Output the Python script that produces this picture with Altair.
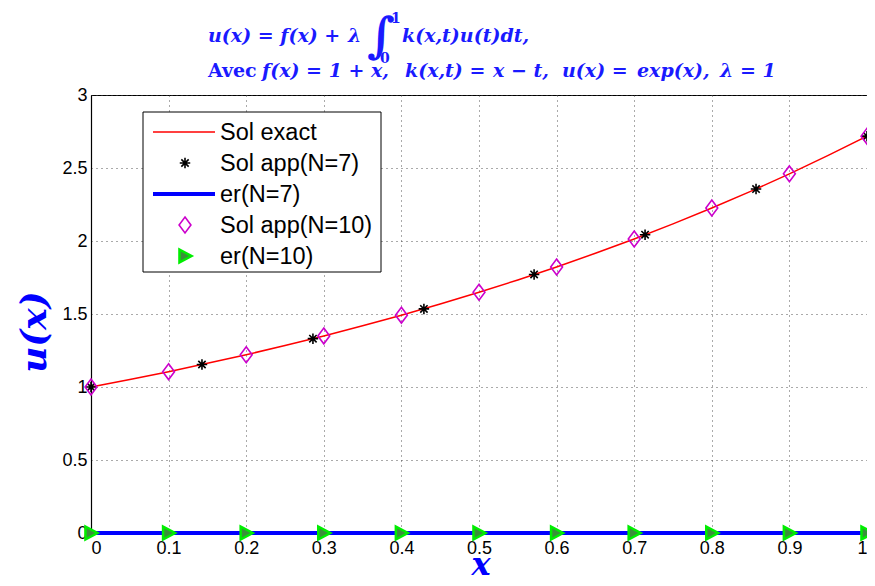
import altair as alt
import pandas as pd

# ---- data ----
x_exact = [0.0, 0.05, 0.1, 0.15, 0.2, 0.25, 0.3, 0.35, 0.4, 0.45, 0.5,
           0.55, 0.6, 0.65, 0.7, 0.75, 0.8, 0.85, 0.9, 0.95, 1.0]
u_exact = [1.000, 1.051, 1.105, 1.162, 1.221, 1.284, 1.350, 1.419, 1.492, 1.568, 1.649,
           1.733, 1.822, 1.916, 2.014, 2.117, 2.226, 2.340, 2.460, 2.586, 2.718]

x_n7 = [0.0, 0.143, 0.286, 0.429, 0.571, 0.714, 0.857, 1.0]
u_n7 = [1.000, 1.154, 1.331, 1.535, 1.771, 2.043, 2.356, 2.718]
er_n7 = [0, 0, 0, 0, 0, 0, 0, 0]

x_n10 = [0.0, 0.1, 0.2, 0.3, 0.4, 0.5, 0.6, 0.7, 0.8, 0.9, 1.0]
u_n10 = [1.000, 1.105, 1.221, 1.350, 1.492, 1.649, 1.822, 2.014, 2.226, 2.460, 2.718]
er_n10 = [0, 0, 0, 0, 0, 0, 0, 0, 0, 0, 0]

legend_labels = ["Sol exact", "Sol app(N=7)", "er(N=7)", "Sol app(N=10)", "er(N=10)"]
x_ticks = [0, 0.1, 0.2, 0.3, 0.4, 0.5, 0.6, 0.7, 0.8, 0.9, 1]
y_ticks = [0, 0.5, 1, 1.5, 2, 2.5, 3]

# title segments (text, left edge in px relative to plot)
title1_segs = ["u(x) = f(x) +", "λ", "k(x,t)u(t)dt,"]
title1_px = [117, 257, 311]
title2_segs = ["f(x) = 1 + x,", "k(x,t) =", "x − t,", "u(x) =", "exp(x),", "λ = 1"]
title2_px = [171, 314, 402, 471, 546, 629]

W, H = 776, 438
STAR = "M-1,0L1,0M0,-1L0,1M-0.7,-0.7L0.7,0.7M-0.7,0.7L0.7,-0.7"
DIAM = "M0,-1L0.75,0L0,1L-0.75,0Z"
TRI = "M-0.85,-1L1,0L-0.85,1Z"
BLUE_T = "#1a1aff"

df_exact = pd.DataFrame({"x": x_exact, "u": u_exact})
df7 = pd.DataFrame({"x": x_n7, "u": u_n7, "er": er_n7})
df10 = pd.DataFrame({"x": x_n10, "u": u_n10, "er": er_n10})

xs = alt.Scale(domain=[0, 1], nice=False)
ys = alt.Scale(domain=[0, 3], nice=False)

xax = alt.Axis(values=x_ticks, format="~g", title="", grid=True, ticks=False, labelPadding=6)
yax = alt.Axis(values=y_ticks, format="~g", title="", grid=True, ticks=False, labelPadding=4)

exact = alt.Chart(df_exact).mark_line(color="#ff0000", strokeWidth=1.5).encode(
    x=alt.X("x:Q", scale=xs, axis=xax), y=alt.Y("u:Q", scale=ys, axis=yax))
stars = alt.Chart(df7).mark_point(shape=STAR, size=110, color="black", strokeWidth=1.6,
                                  filled=False, opacity=1).encode(
    x=alt.X("x:Q", scale=xs), y=alt.Y("u:Q", scale=ys))
er7 = alt.Chart(df7).mark_line(color="#0000ff", strokeWidth=4).encode(
    x=alt.X("x:Q", scale=xs), y=alt.Y("er:Q", scale=ys))
diam = alt.Chart(df10).mark_point(shape=DIAM, size=250, color="#cc00cc", strokeWidth=1.6,
                                  filled=False, opacity=1).encode(
    x=alt.X("x:Q", scale=xs), y=alt.Y("u:Q", scale=ys))
tri = alt.Chart(df10).mark_point(shape=TRI, size=170, fill="#3a8f3a", stroke="#00ee00",
                                 strokeWidth=2.5, filled=True, opacity=1, fillOpacity=1).encode(
    x=alt.X("x:Q", scale=xs), y=alt.Y("er:Q", scale=ys))

one = pd.DataFrame({"k": [0]})

# ---- legend ----
lx0, lx1, ly0, ly1 = 52, 290, 17, 177
leg_box = alt.Chart(one).mark_rect(fill="white", stroke="black", strokeWidth=1).encode(
    x=alt.value(lx0), x2=alt.value(lx1), y=alt.value(ly0), y2=alt.value(ly1))
rows = [37, 68, 99, 130, 161]
seg0, seg1, mk, tx = 62, 124, 94, 129
leg_layers = [leg_box]
leg_layers.append(alt.Chart(one).mark_rule(color="#ff0000", strokeWidth=1.5).encode(
    x=alt.value(seg0), x2=alt.value(seg1), y=alt.value(rows[0])))
leg_layers.append(alt.Chart(one).mark_point(shape=STAR, size=110, color="black", strokeWidth=1.6,
                                            opacity=1).encode(x=alt.value(mk), y=alt.value(rows[1])))
leg_layers.append(alt.Chart(one).mark_rule(color="#0000ff", strokeWidth=4).encode(
    x=alt.value(seg0), x2=alt.value(seg1), y=alt.value(rows[2])))
leg_layers.append(alt.Chart(one).mark_point(shape=DIAM, size=250, color="#cc00cc", strokeWidth=1.6,
                                            opacity=1).encode(x=alt.value(mk), y=alt.value(rows[3])))
leg_layers.append(alt.Chart(one).mark_point(shape=TRI, size=170, fill="#3a8f3a", stroke="#00ee00",
                                            strokeWidth=2.5, filled=True, opacity=1).encode(
    x=alt.value(mk), y=alt.value(rows[4])))
for lab, ry in zip(legend_labels, rows):
    leg_layers.append(alt.Chart(one).mark_text(text=lab, align="left", baseline="middle",
                                               font="Liberation Sans", fontSize=23.5, color="black").encode(
        x=alt.value(tx), y=alt.value(ry + 1)))

# ---- axis titles ----
ax_titles = [
    alt.Chart(one).mark_text(text="x", font="DejaVu Serif", fontStyle="italic", fontWeight="bold",
                             fontSize=32, color="#0000ff", baseline="alphabetic", align="center").encode(
        x=alt.value(390), y=alt.value(480)),
    alt.Chart(one).mark_text(text="u(x)", font="DejaVu Serif", fontStyle="italic", fontWeight="bold",
                             fontSize=36, color="#0000ff", baseline="middle", align="center",
                             angle=270).encode(
        x=alt.value(-56), y=alt.value(237)),
]

# ---- title (equation) ----
tf = dict(font="DejaVu Serif", fontWeight="bold", color=BLUE_T, baseline="alphabetic", align="left")
df_t1 = pd.DataFrame({"t": title1_segs, "px": title1_px})
df_t2 = pd.DataFrame({"t": title2_segs, "px": title2_px})
title_layers = [
    alt.Chart(df_t1).mark_text(fontSize=19, fontStyle="italic", **tf).encode(
        x=alt.X("px:Q", scale=None), y=alt.value(-53), text="t:N"),
    alt.Chart(df_t2).mark_text(fontSize=19, fontStyle="italic", **tf).encode(
        x=alt.X("px:Q", scale=None), y=alt.value(-18), text="t:N"),
    alt.Chart(one).mark_text(text="Avec", fontSize=19, **tf).encode(
        x=alt.value(117), y=alt.value(-18)),
    alt.Chart(one).mark_text(text="∫", fontSize=48, **tf).encode(
        x=alt.value(276), y=alt.value(-43)),
    alt.Chart(one).mark_text(text="1", fontSize=14, **tf).encode(
        x=alt.value(300), y=alt.value(-72)),
    alt.Chart(one).mark_text(text="0", fontSize=14, **tf).encode(
        x=alt.value(289), y=alt.value(-32)),
]

chart = alt.layer(exact, stars, er7, diam, tri, *leg_layers, *ax_titles, *title_layers).properties(
    width=W, height=H,
    autosize=alt.AutoSizeParams(type="none"),
    padding={"left": 83, "top": 87, "right": 0, "bottom": 45},
).configure_view(stroke="black", strokeWidth=1).configure_axis(
    domainColor="black", domainWidth=1.2,
    gridColor="#444", gridDash=[1, 4], gridOpacity=0.9, gridWidth=1,
    labelFont="Liberation Sans", labelFontSize=18, labelColor="black",
)

chart.save("out.html", embed_options={"renderer": "svg", "actions": False})
